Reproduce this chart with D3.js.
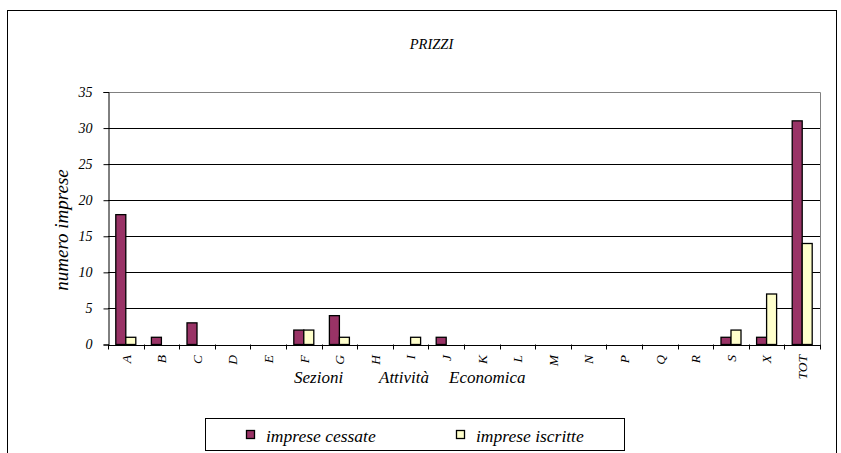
<!DOCTYPE html>
<html>
<head>
<meta charset="utf-8">
<script src="https://cdn.jsdelivr.net/npm/d3@7"></script>
<style>
  body { margin: 0; background: #fff; }
  svg text { font-family: "Liberation Serif", "Times New Roman", serif; font-style: italic; fill: #000; }
</style>
</head>
<body>
<svg id="chart"></svg>
<script>
// dati: sezioni di attività economica
var sezioni = ["A", "B", "C", "D", "E", "F", "G", "H", "I", "J", "K", "L", "M", "N", "P", "Q", "R", "S", "X", "TOT"]
var cessate = [18, 1, 3, 0, 0, 2, 4, 0, 0, 1, 0, 0, 0, 0, 0, 0, 0, 1, 1, 31]
var iscritte = [1, 0, 0, 0, 0, 2, 1, 0, 1, 0, 0, 0, 0, 0, 0, 0, 0, 2, 7, 14]
var serieNomi = ["imprese cessate", "imprese iscritte"]
var yTicks = [0, 5, 10, 15, 20, 25, 30, 35]
var titolo = "PRIZZI"
var titoloX = ["Sezioni", "Attività", "Economica"]

var dimensions = {
    width: 841,
    height: 453,
    margin: { top: 92, bottom: 108.5, right: 21, left: 108 }
}
var colori = ["#993366", "#FFFFCC"]
var serif = '"Liberation Serif", "Times New Roman", serif'

var svg = d3.select('#chart')
    .attr("width", dimensions.width)
    .attr("height", dimensions.height)

// cornice esterna
svg.append("rect")
    .attr("x", 7.5).attr("y", 10.5)
    .attr("width", 829).attr("height", 460)
    .attr("fill", "none").attr("stroke", "#000").attr("stroke-width", 1)

var xScale = d3.scaleBand()
    .domain(sezioni)
    .range([dimensions.margin.left, dimensions.width - dimensions.margin.right])

var yScale = d3.scaleLinear()
    .domain([0, 35])
    .range([dimensions.height - dimensions.margin.bottom, dimensions.margin.top])

var innerX = d3.scaleBand()
    .domain([0, 1])
    .range([0, 20])

var x0 = dimensions.margin.left, x1 = dimensions.width - dimensions.margin.right
var y0 = yScale(0), yTop = yScale(35)

// griglia
svg.append("g").selectAll("line")
    .data(yTicks.filter(d => d > 0 && d < 35))
    .enter().append("line")
    .attr("x1", x0).attr("x2", x1)
    .attr("y1", d => Math.round(yScale(d)) + 0.5)
    .attr("y2", d => Math.round(yScale(d)) + 0.5)
    .attr("stroke", "#000")

// bordo area grafico (grigio)
svg.append("path")
    .attr("d", `M${x0},${Math.round(yTop) + 0.5}H${x1 + 0.5}V${y0}`)
    .attr("fill", "none").attr("stroke", "#808080")

// barre
var dati = sezioni.map((s, i) => ({ s: s, v: [cessate[i], iscritte[i]] }))
var gruppi = svg.append("g").selectAll("g")
    .data(dati)
    .enter().append("g")
    .attr("transform", d => `translate(${xScale(d.s) + (xScale.bandwidth() - 20) / 2},0)`)

gruppi.selectAll("rect")
    .data(d => d.v.map((v, k) => ({ v: v, k: k })).filter(e => e.v > 0))
    .enter().append("rect")
    .attr("x", e => innerX(e.k))
    .attr("width", innerX.bandwidth())
    .attr("y", e => yScale(e.v))
    .attr("height", e => y0 - yScale(e.v))
    .attr("fill", e => colori[e.k])
    .attr("stroke", "#000")
    .attr("stroke-width", 1.3)

// asse y
var yAxis = svg.append("g")
    .attr("transform", `translate(${x0 + 0.5},0)`)
    .call(d3.axisLeft(yScale).tickValues(yTicks).tickSize(5).tickPadding(11))
yAxis.attr("font-family", null).attr("font-size", null)
yAxis.select(".domain").attr("stroke", "#000")
yAxis.selectAll("text")
    .style("font-family", serif)
    .style("font-style", "italic")
    .style("font-size", "14px")

// asse x
var xAxis = svg.append("g")
    .attr("transform", `translate(0,${y0 + 0.5})`)
    .call(d3.axisBottom(xScale).tickSizeOuter(0).tickSize(0))
xAxis.attr("font-family", null).attr("font-size", null)
xAxis.select(".domain").attr("stroke", "#000")
xAxis.selectAll(".tick line").remove()
xAxis.selectAll(".tick text")
    .style("font-family", serif)
    .style("font-style", "italic")
    .style("font-size", "13.5px")
    .style("text-anchor", "end")
    .attr("dy", "0.35em")
    .attr("x", -10)
    .attr("y", 0)
    .attr("transform", "rotate(-90)")

// tacche ai confini delle categorie
svg.append("g").selectAll("line")
    .data(sezioni.concat(["__end"]))
    .enter().append("line")
    .attr("x1", (d, i) => Math.round(x0 + i * xScale.step()) + 0.5)
    .attr("x2", (d, i) => Math.round(x0 + i * xScale.step()) + 0.5)
    .attr("y1", y0).attr("y2", y0 + 5)
    .attr("stroke", "#000")

// titolo
svg.append("text")
    .attr("x", 431.5).attr("y", 49)
    .attr("text-anchor", "middle")
    .style("font-size", "14.5px")
    .text(titolo)

// titoli assi
svg.append("text")
    .attr("transform", `translate(68,230) rotate(-90)`)
    .attr("text-anchor", "middle")
    .style("font-size", "19px")
    .text("numero imprese")

var titoloXPos = [294, 379, 449]
svg.append("text")
    .attr("y", 383)
    .style("font-size", "17px")
    .selectAll("tspan")
    .data(titoloX)
    .enter().append("tspan")
    .attr("x", (d, i) => titoloXPos[i])
    .text(d => d)

// legenda
var leg = svg.append("g")
leg.append("rect")
    .attr("x", 205.5).attr("y", 418.5)
    .attr("width", 419).attr("height", 32)
    .attr("fill", "#fff").attr("stroke", "#000")

var legX = [246, 456]
serieNomi.forEach(function (n, k) {
    leg.append("rect")
        .attr("x", legX[k] + 0.5).attr("y", 430.5)
        .attr("width", 8).attr("height", 8)
        .attr("fill", colori[k]).attr("stroke", "#000").attr("stroke-width", 1.3)
    leg.append("text")
        .attr("x", legX[k] + 20).attr("y", 442)
        .style("font-size", "17.5px")
        .text(n)
})
</script>
</body>
</html>
